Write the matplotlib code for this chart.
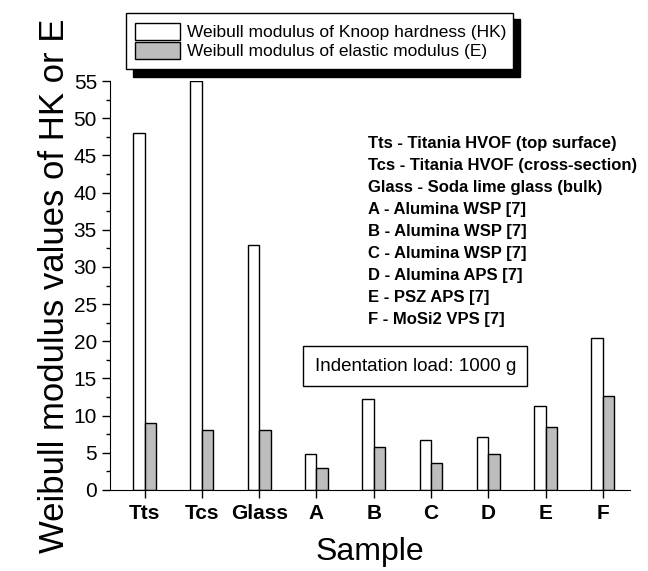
import matplotlib.pyplot as plt
from matplotlib.patches import Rectangle
from matplotlib.ticker import MultipleLocator
import numpy as np

plt.rcParams['font.family'] = ['Liberation Sans', 'DejaVu Sans']

samples = ['Tts', 'Tcs', 'Glass', 'A', 'B', 'C', 'D', 'E', 'F']
hk_modulus = [48, 55, 33, 4.8, 12.2, 6.7, 7.1, 11.3, 20.5]
e_modulus = [9.0, 8.0, 8.0, 3.0, 5.8, 3.6, 4.8, 8.5, 12.6]
legend_labels = ['Weibull modulus of Knoop hardness (HK)',
                 'Weibull modulus of elastic modulus (E)']
notes = ['Tts - Titania HVOF (top surface)',
         'Tcs - Titania HVOF (cross-section)',
         'Glass - Soda lime glass (bulk)',
         'A - Alumina WSP [7]',
         'B - Alumina WSP [7]',
         'C - Alumina WSP [7]',
         'D - Alumina APS [7]',
         'E - PSZ APS [7]',
         'F - MoSi2 VPS [7]']
load_note = 'Indentation load: 1000 g'

fig = plt.figure(figsize=(6.48, 5.71), dpi=100)
ax = fig.add_axes([0.170, 0.142, 0.802, 0.716])

x = np.arange(len(samples))
w = 0.2
b1 = ax.bar(x - w / 2, hk_modulus, w, color='white', edgecolor='black',
            linewidth=1.0, label=legend_labels[0])
b2 = ax.bar(x + w / 2, e_modulus, w, color='#bdbdbd', edgecolor='black',
            linewidth=1.0, label=legend_labels[1])

ax.set_xlim(-0.6, 8.47)
ax.set_ylim(0, 55)
ax.yaxis.set_major_locator(MultipleLocator(5))
ax.yaxis.set_minor_locator(MultipleLocator(2.5))
ax.set_xticks(x)
ax.set_xticklabels(samples, fontsize=15, fontweight='bold')
ax.tick_params(axis='y', which='major', length=6, width=1, labelsize=15)
ax.tick_params(axis='y', which='minor', length=3, width=1)
ax.tick_params(axis='x', length=6, width=1, pad=4)
for s in ['top', 'right']:
    ax.spines[s].set_visible(False)

ax.set_ylabel('Weibull modulus values of HK or E', fontsize=25, labelpad=2)
ax.set_xlabel('Sample', fontsize=23, labelpad=10)

# notes on the right
for i, line in enumerate(notes):
    ax.text(0.496, 0.847 - i * 0.0538, line, transform=ax.transAxes,
            fontsize=12, fontweight='bold', va='center', ha='left')

ax.text(0.587, 0.303, load_note, transform=ax.transAxes, fontsize=13.5,
        ha='center', va='center',
        bbox=dict(boxstyle='square,pad=0.6', fc='white', ec='black', lw=1))

# legend with hard black shadow
lbox = (0.194, 0.877, 0.598, 0.102)
fig.patches.append(Rectangle((lbox[0] + 0.011, lbox[1] - 0.012), lbox[2], lbox[3],
                             transform=fig.transFigure, fc='black', ec='black',
                             zorder=1))
leg = fig.legend(handles=[b1, b2], loc='center', bbox_to_anchor=lbox,
                 mode='expand', fontsize=12.5, fancybox=False, shadow=False,
                 framealpha=1, edgecolor='black', handlelength=2.6,
                 handleheight=1.1, borderaxespad=0, labelspacing=0.1,
                 handletextpad=0.4, borderpad=0.55)
leg.set_zorder(2)
leg.get_frame().set_linewidth(1)

fig.savefig('out.png', dpi=100)
